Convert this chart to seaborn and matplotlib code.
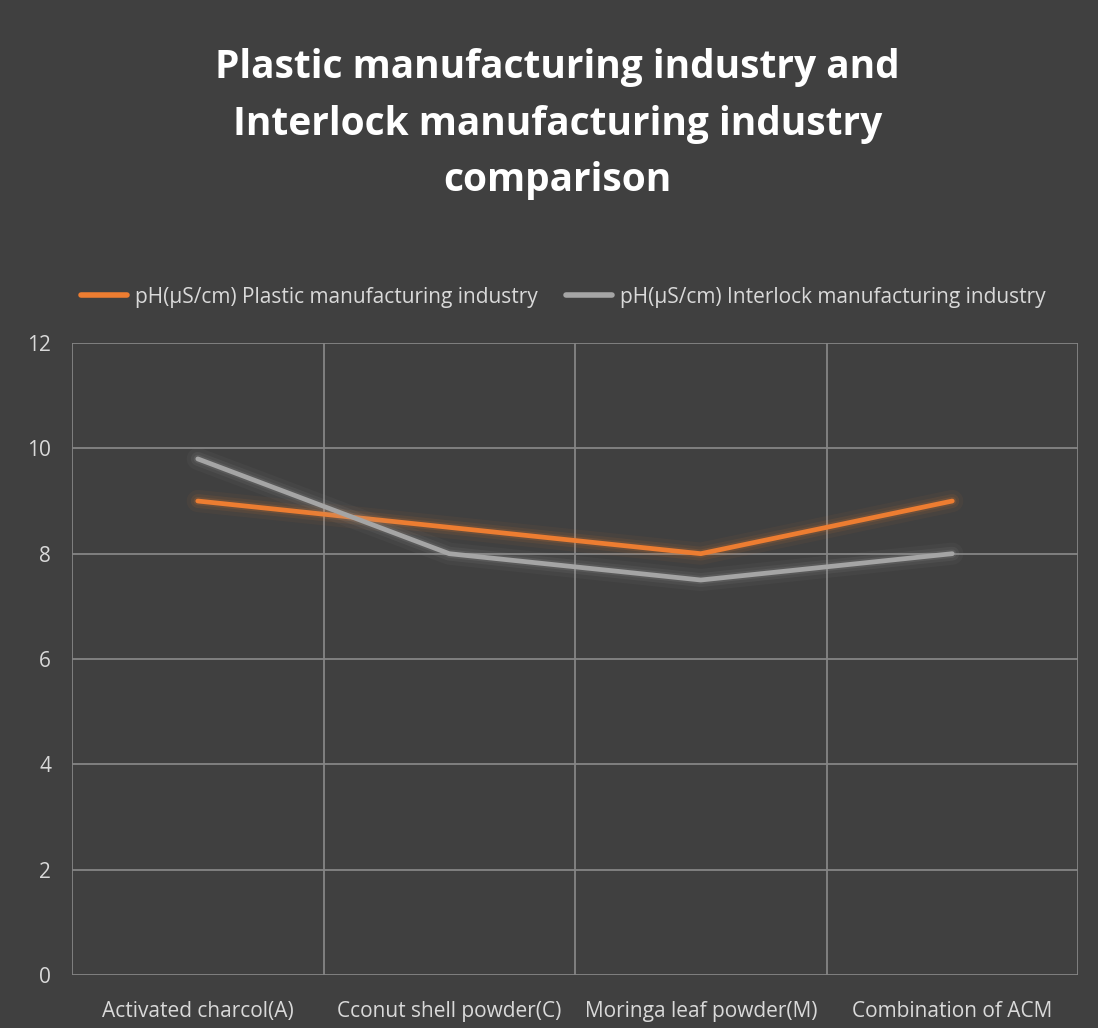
import matplotlib
matplotlib.use("Agg")
import matplotlib.pyplot as plt
import matplotlib.patheffects as pe
import seaborn as sns
import pandas as pd
import numpy as np

categories = ["Activated charcol(A)", "Cconut shell powder(C)", "Moringa leaf powder(M)", "Combination of ACM"]
plastic = [9.0, 8.5, 8.0, 9.0]
interlock = [9.8, 8.0, 7.5, 8.0]
series_names = ["pH(µS/cm) Plastic manufacturing industry", "pH(µS/cm) Interlock manufacturing industry"]
yticks = [0, 2, 4, 6, 8, 10, 12]

BG = "#404040"
sns.set_style("dark")
plt.rcParams['font.family'] = ['Open Sans', 'DejaVu Sans']

df = pd.DataFrame({
    "pos": list(range(len(categories))) * 2,
    "value": plastic + interlock,
    "series": [series_names[0]] * 4 + [series_names[1]] * 4,
})

fig = plt.figure(figsize=(10.98, 10.28), dpi=100, facecolor=BG)
ax = fig.add_axes([0.0656, 0.0516, 0.9162, 0.6147])
ax.set_facecolor(BG)

palette = {series_names[0]: "#ED7D31", series_names[1]: "#A5A5A5"}
sns.lineplot(data=df, x="pos", y="value", hue="series", palette=palette,
             linewidth=3.4, ax=ax, legend=False, sort=False)
for line in ax.get_lines():
    c = line.get_color()
    line.set_path_effects([
        pe.Stroke(linewidth=16, foreground=c, alpha=0.05),
        pe.Stroke(linewidth=10, foreground=c, alpha=0.09),
        pe.Stroke(linewidth=6, foreground=c, alpha=0.14),
        pe.Normal()])

ax.set_xlim(-0.5, len(categories) - 0.5)
ax.set_ylim(0, 12)
ax.set_yticks(yticks)
ax.set_xticks(range(len(categories)))
ax.set_xticklabels(categories)
ax.set_xticks(np.arange(-0.5, len(categories), 1.0), minor=True)
ax.grid(False)
ax.grid(True, axis="y", which="major", color="#858585", linewidth=1.3)
ax.grid(True, axis="x", which="minor", color="#858585", linewidth=1.3)
for s in ax.spines.values():
    s.set_visible(False)
ax.tick_params(axis="both", which="both", length=0, colors="#D9D9D9", labelsize=15)
ax.tick_params(axis="x", pad=19)
ax.tick_params(axis="y", pad=15)
ax.set_xlabel("")
ax.set_ylabel("")

fig.text(0.508, 0.879, "Plastic manufacturing industry and\nInterlock manufacturing industry\ncomparison",
         ha="center", va="center", color="white", fontsize=28, fontweight="bold", linespacing=1.58)

from matplotlib.lines import Line2D
handles = [Line2D([0], [0], color=palette[n], lw=4) for n in series_names]
leg = fig.legend(handles, series_names, loc="center", bbox_to_anchor=(0.513, 0.711), ncol=2,
                 frameon=False, fontsize=15, labelcolor="#D9D9D9", handlelength=2.2,
                 handletextpad=0.35, columnspacing=1.4)

fig.savefig("out.png", dpi=100, facecolor=BG)
